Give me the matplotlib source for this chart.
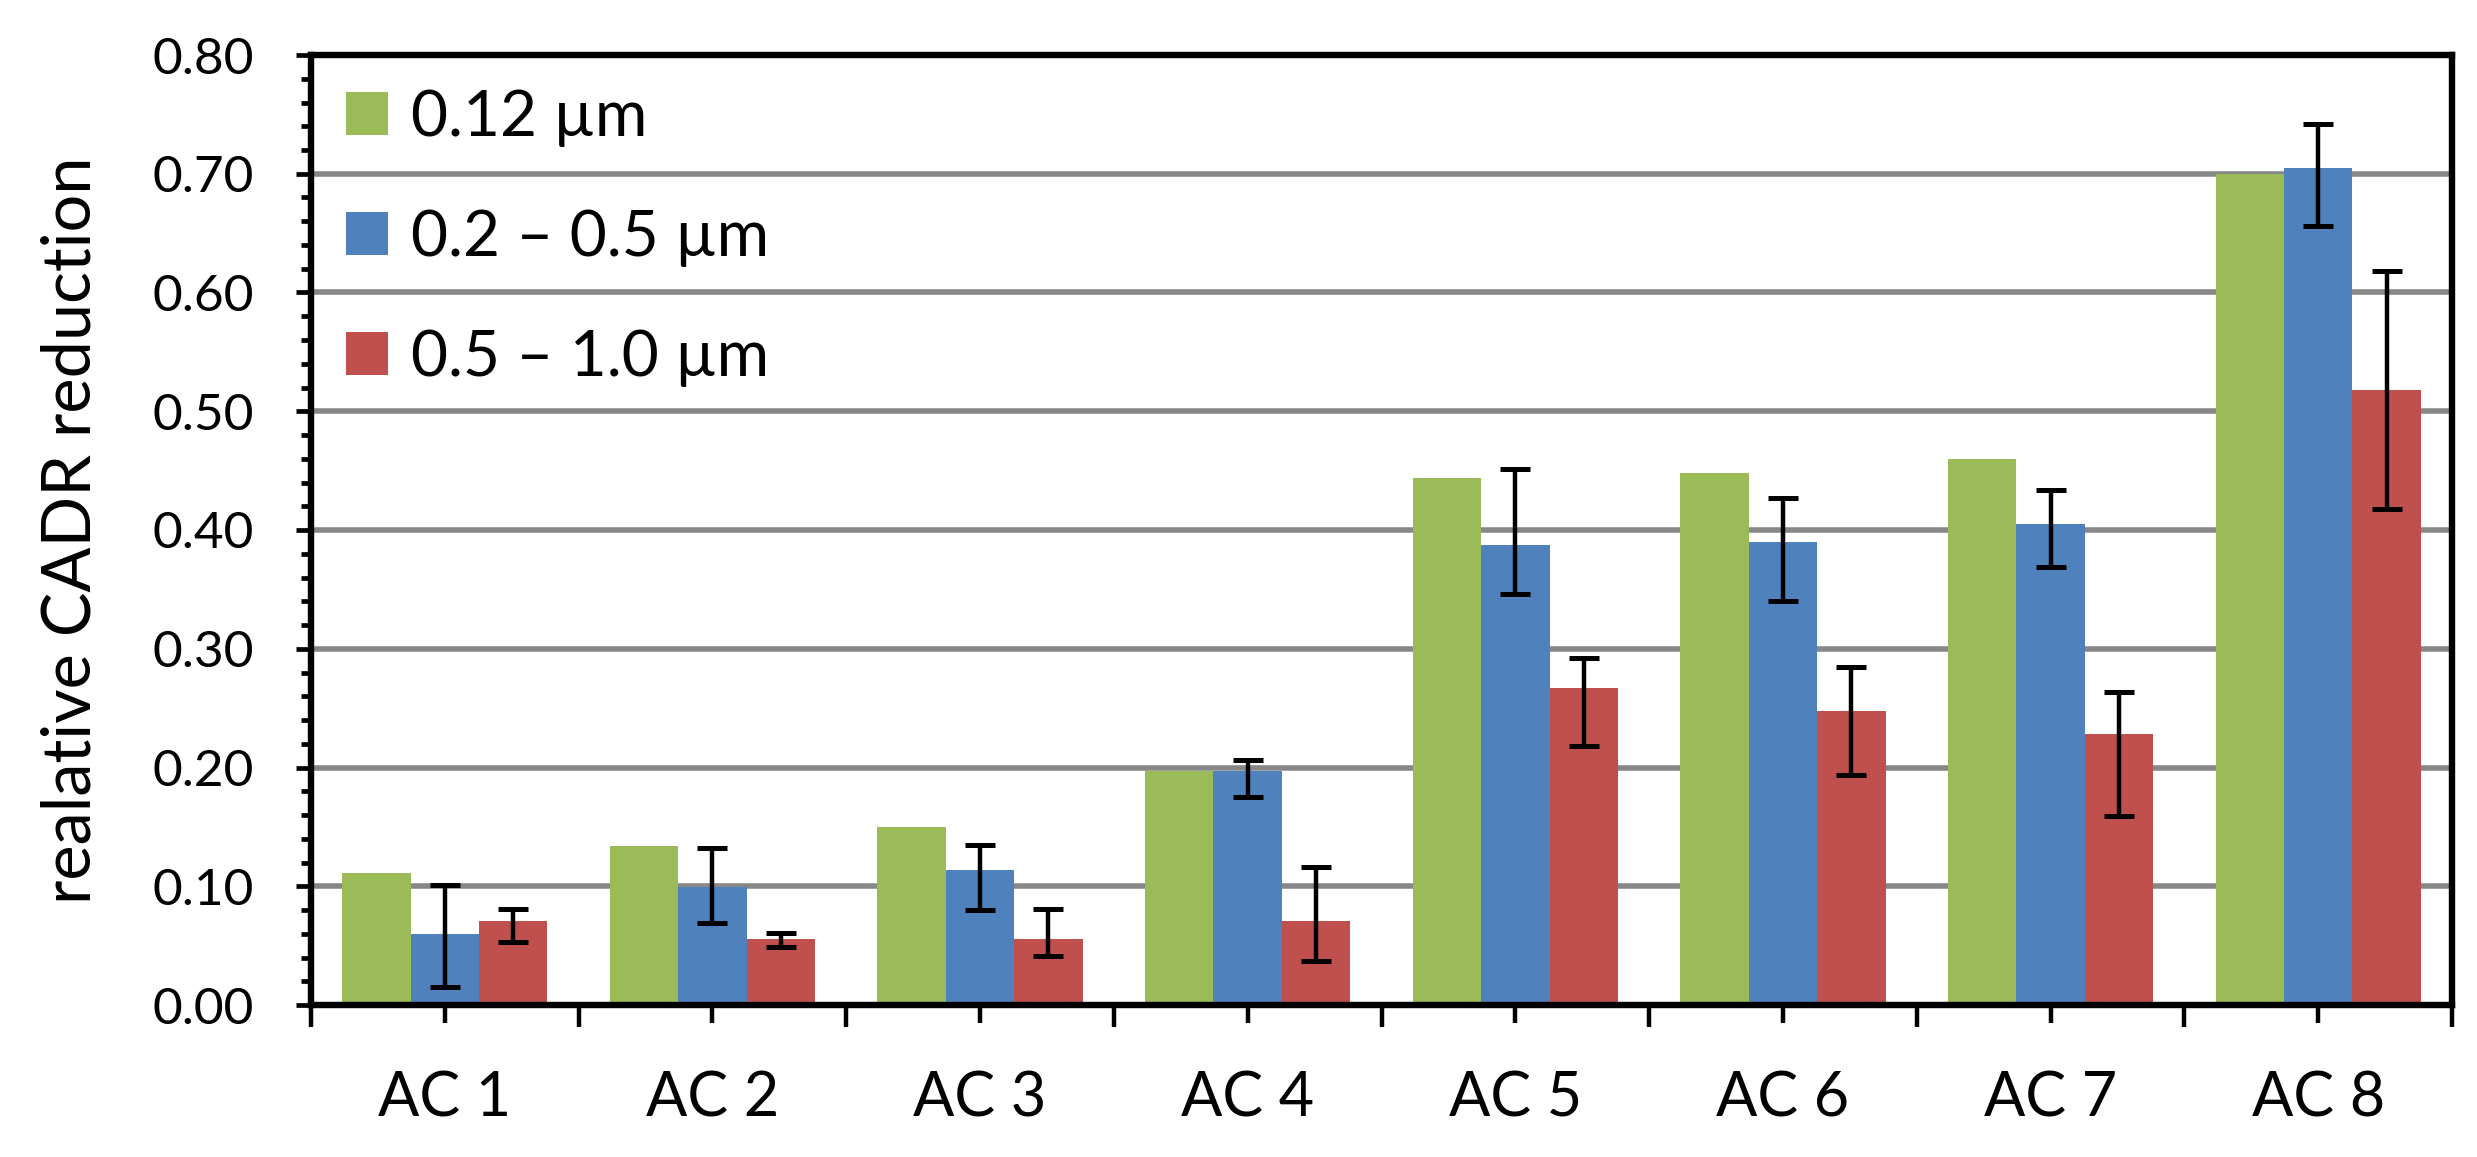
import matplotlib
matplotlib.use("Agg")
import matplotlib.pyplot as plt
from matplotlib.ticker import MultipleLocator, FixedLocator
import numpy as np

# data
categories = ["AC 1", "AC 2", "AC 3", "AC 4", "AC 5", "AC 6", "AC 7", "AC 8"]
series_names = ["0.12 \u00b5m", "0.2 \u2013 0.5 \u00b5m", "0.5 \u2013 1.0 \u00b5m"]
green = [0.111, 0.134, 0.150, 0.197, 0.444, 0.448, 0.460, 0.700]
blue = [0.060, 0.099, 0.114, 0.197, 0.387, 0.390, 0.405, 0.705]
blue_lo = [0.045, 0.030, 0.034, 0.022, 0.041, 0.050, 0.036, 0.049]
blue_hi = [0.041, 0.033, 0.021, 0.009, 0.064, 0.037, 0.029, 0.037]
red = [0.071, 0.056, 0.056, 0.071, 0.267, 0.248, 0.228, 0.518]
red_lo = [0.018, 0.007, 0.015, 0.034, 0.049, 0.054, 0.069, 0.100]
red_hi = [0.010, 0.005, 0.025, 0.045, 0.025, 0.037, 0.036, 0.100]

colors = ["#9BBB59", "#4F81BD", "#C0504D"]

plt.rcParams['font.family'] = ['Lato', 'DejaVu Sans']

fig = plt.figure(figsize=(24.77, 11.57), dpi=100)
ax = fig.add_axes([311 / 2477, 1 - 1005 / 1157, (2452 - 311) / 2477, (1005 - 55) / 1157])

x = np.arange(len(categories))
w = 0.2555
ax.bar(x - w, green, w, color=colors[0], label=series_names[0], zorder=2)
ax.bar(x, blue, w, color=colors[1], label=series_names[1], zorder=2)
ax.bar(x + w, red, w, color=colors[2], label=series_names[2], zorder=2)

err_kw = dict(fmt='none', ecolor='black', elinewidth=3.2, capsize=10.5, capthick=3.6, zorder=3)
ax.errorbar(x, blue, yerr=[blue_lo, blue_hi], **err_kw)
ax.errorbar(x + w, red, yerr=[red_lo, red_hi], **err_kw)

ax.set_xlim(-0.5, len(categories) - 0.5)
ax.set_ylim(0, 0.8)

# y axis
ax.yaxis.set_major_locator(MultipleLocator(0.1))
ax.yaxis.set_minor_locator(MultipleLocator(0.02))
ax.yaxis.set_major_formatter(matplotlib.ticker.FormatStrFormatter('%.2f'))
ax.tick_params(axis='y', which='major', length=11, width=3.4, labelsize=37, pad=30)
ax.tick_params(axis='y', which='minor', length=7, width=3.4)
ax.grid(axis='y', which='major', color='#878787', linewidth=4, zorder=1)

# x axis: labels at centres, long ticks at the category boundaries
ax.set_xticks(x)
ax.set_xticklabels(categories)
ax.xaxis.set_minor_locator(FixedLocator(np.arange(-0.5, len(categories), 1.0)))
ax.tick_params(axis='x', which='major', length=13, width=3.2, labelsize=44, pad=34)
ax.tick_params(axis='x', which='minor', length=16, width=3.2)

for s in ax.spines.values():
    s.set_linewidth(4.6)
    s.set_color('black')
    s.set_zorder(4)

ax.set_ylabel("realative CADR reduction", fontsize=48, labelpad=36)

ax.legend(loc='upper left', bbox_to_anchor=(35 / 2141, 1 - 34 / 950), frameon=False,
          fontsize=46, handlelength=0.66, handleheight=0.66, handletextpad=0.35,
          labelspacing=0.97, borderaxespad=0, borderpad=0)

fig.savefig("out.png", dpi=100, facecolor='white')
